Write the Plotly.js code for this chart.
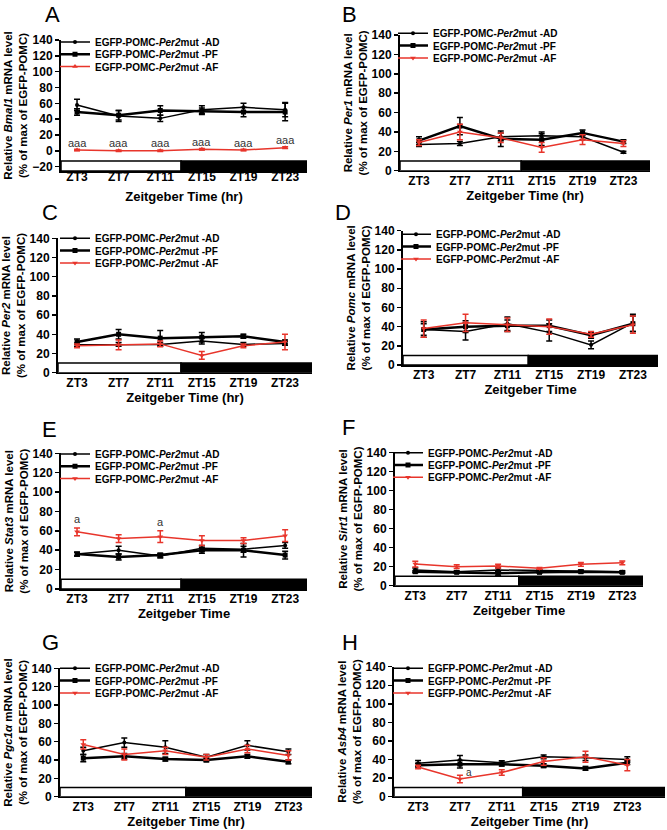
<!DOCTYPE html>
<html>
<head>
<meta charset="utf-8">
<script src="https://cdn.plot.ly/plotly-3.0.1.min.js"></script>
<style>
html,body{margin:0;padding:0;background:#ffffff;}
#chart{width:667px;height:830px;}
</style>
</head>
<body>
<div id="chart"></div>
<script>
// ---------- data ----------
const ztHours = [3, 7, 11, 15, 19, 23];
const ztLabels = ['ZT3', 'ZT7', 'ZT11', 'ZT15', 'ZT19', 'ZT23'];
const groupNames = [
  'EGFP-POMC-<i>Per2</i>mut -AD',
  'EGFP-POMC-<i>Per2</i>mut -PF',
  'EGFP-POMC-<i>Per2</i>mut -AF'
];
const panelLetters = ['A', 'B', 'C', 'D', 'E', 'F', 'G', 'H'];
const geneNames = ['Bmal1', 'Per1', 'Per2', 'Pomc', 'Stat3', 'Sirt1', 'Pgc1\u03b1', 'Asb4'];
const xTitles = ['Zeitgeber Time (hr)', 'Zeitgeber Time (hr)', 'Zeitgeber Time (hr)', 'Zeitgeber Time',
                 'Zeitgeber Time', 'Zeitgeber Time', 'Zeitgeber Time (hr)', 'Zeitgeber Time (hr)'];
const lightDarkBoundary = 13;

// A  Bmal1
const bmal1AD = [58, 44, 41, 52, 55, 52];
const bmal1ADerr = [7, 7, 4, 5, 5, 9];
const bmal1PF = [49, 45, 51, 50, 49, 49];
const bmal1PFerr = [4, 6, 6, 4, 6, 11];
const bmal1AF = [1, 0, 0, 2, 1, 4];
const bmal1AFerr = [1, 1, 1, 1, 1, 1];
const bmal1Sig = ['aaa', 'aaa', 'aaa', 'aaa', 'aaa', 'aaa'];
// B  Per1
const per1AD = [27, 28, 35, 36, 35, 19];
const per1ADerr = [2, 2, 4, 4, 3, 1];
const per1PF = [31, 46, 33, 32, 39, 30];
const per1PFerr = [4, 9, 8, 6, 3, 2];
const per1AF = [29, 40, 34, 24, 32, 28];
const per1AFerr = [3, 8, 5, 5, 5, 3];
// C  Per2
const per2AD = [29, 29.5, 29.5, 33, 29.5, 30.5];
const per2ADerr = [2, 2, 2, 3, 2, 2];
const per2PF = [32, 40, 36, 37, 38, 32];
const per2PFerr = [3, 5, 8, 5, 2, 2];
const per2AF = [28, 29, 30, 18, 28, 32];
const per2AFerr = [2, 5, 3, 4, 2, 8];
// D  Pomc
const pomcAD = [37, 35, 43, 34, 21, 44];
const pomcADerr = [8, 9, 7, 9, 4, 9];
const pomcPF = [37, 40, 41, 41, 31, 43];
const pomcPFerr = [6, 6, 6, 6, 3, 8];
const pomcAF = [38, 44, 42, 40, 32, 42];
const pomcAFerr = [9, 9, 7, 8, 3, 9];
// E  Stat3
const stat3AD = [36, 40, 34, 42, 41, 45];
const stat3ADerr = [2, 4, 2, 3, 3, 3];
const stat3PF = [36, 33, 35, 40, 40, 35];
const stat3PFerr = [2, 3, 2, 3, 7, 4];
const stat3AF = [59, 52, 54, 50, 50, 55];
const stat3AFerr = [4, 4, 6, 5, 3, 6];
const stat3Sig = ['a', '', 'a', '', '', ''];
// F  Sirt1
const sirt1AD = [16.5, 14.7, 16.5, 15.7, 15.4, 14.7];
const sirt1ADerr = [2, 1, 2, 1, 1, 1];
const sirt1PF = [14.7, 14, 13, 14, 14.7, 14];
const sirt1PFerr = [1, 1, 2, 1, 1, 1];
const sirt1AF = [22.7, 20, 20.6, 18.2, 22.4, 24];
const sirt1AFerr = [3, 2, 2, 1, 2, 2];
// G  Pgc1a
const pgc1aAD = [50, 59, 54, 43, 56, 49];
const pgc1aADerr = [4, 5, 7, 3, 5, 3];
const pgc1aPF = [42, 44, 41, 40, 44, 38];
const pgc1aPFerr = [4, 3, 2, 2, 2, 2];
const pgc1aAF = [57, 46, 50, 43, 52, 45];
const pgc1aAFerr = [5, 6, 4, 3, 4, 5];
// H  Asb4
const asb4AD = [36, 39.5, 36.6, 43, 42, 40];
const asb4ADerr = [3, 5, 2, 2, 3, 3];
const asb4PF = [34, 35, 35, 33.4, 30.5, 36.6];
const asb4PFerr = [2, 4, 2, 2, 2, 2];
const asb4AF = [32, 19, 26, 38, 43, 34];
const asb4AFerr = [2, 4, 3, 4, 6, 6];
const asb4Sig = ['', 'a', '', '', '', ''];

// ---------- assembly ----------
const panelSeries = [
  [bmal1AD, bmal1ADerr, bmal1PF, bmal1PFerr, bmal1AF, bmal1AFerr],
  [per1AD, per1ADerr, per1PF, per1PFerr, per1AF, per1AFerr],
  [per2AD, per2ADerr, per2PF, per2PFerr, per2AF, per2AFerr],
  [pomcAD, pomcADerr, pomcPF, pomcPFerr, pomcAF, pomcAFerr],
  [stat3AD, stat3ADerr, stat3PF, stat3PFerr, stat3AF, stat3AFerr],
  [sirt1AD, sirt1ADerr, sirt1PF, sirt1PFerr, sirt1AF, sirt1AFerr],
  [pgc1aAD, pgc1aADerr, pgc1aPF, pgc1aPFerr, pgc1aAF, pgc1aAFerr],
  [asb4AD, asb4ADerr, asb4PF, asb4PFerr, asb4AF, asb4AFerr]
];

// panel geometry in page pixels (styling only)
const W = 667, H = 830;
const geom = [
  {L: 61,  R: 307, top: 40,    bot: 171,   xr: [1.46, 25.1], yr: [-25.5, 140], bar: [-13, -25.5], lx: 95,  ly: 42,    px: 43,  py: 0,   tls: -6, xts: 9},
  {L: 400, R: 650, top: 35,    bot: 170.7, xr: [1.14, 25.6], yr: [0, 140],     bar: [0, 10],       lx: 433, ly: 33.3,  px: 340, py: 0,   tls: -2, xts: 4},
  {L: 58,  R: 312, top: 238.3, bot: 372.7, xr: [1.17, 25.6], yr: [0, 140],     bar: [0, 10],       lx: 95,  ly: 238.3, px: 40,  py: 198, tls: -2, xts: 3},
  {L: 403, R: 658, top: 230.7, bot: 365,   xr: [1.02, 25.4], yr: [0, 140],     bar: [0, 10],       lx: 436, ly: 234.3, px: 333, py: 198, tls: -2, xts: 4},
  {L: 61,  R: 307, top: 453.3, bot: 589,   xr: [1.46, 25.1], yr: [0, 140],     bar: [0, 10],       lx: 95,  ly: 454,   px: 40,  py: 415, tls: -2, xts: 3},
  {L: 395, R: 643, top: 452.3, bot: 585.7, xr: [1.04, 25.0], yr: [0, 140],     bar: [0, 10],       lx: 428, ly: 452.7, px: 340, py: 413, tls: -2, xts: 4},
  {L: 60,  R: 312, top: 668.3, bot: 796.7, xr: [0.73, 25.3], yr: [0, 140],     bar: [0, 10],       lx: 95,  ly: 668.3, px: 40,  py: 628, tls: -2, xts: 3},
  {L: 394, R: 665, top: 666.7, bot: 796.7, xr: [0.70, 26.6], yr: [0, 140],     bar: [0, 10],       lx: 428, ly: 668.3, px: 340, py: 628, tls: -2, xts: 3}
];
const legendRowGap = 12.3;

const FONT = 'Liberation Sans, Arial, Helvetica, sans-serif';
const RED = '#e8352b';
const styles = [
  {color: '#000000', width: 1.5, symbol: 'circle', size: 4},
  {color: '#000000', width: 2.5, symbol: 'square', size: 5},
  {color: RED, width: 1.5, symbol: 'triangle-down', size: 5}
];

const traces = [];
const layout = {
  width: W, height: H,
  margin: {l: 0, r: 0, t: 0, b: 0},
  paper_bgcolor: '#ffffff',
  plot_bgcolor: 'rgba(0,0,0,0)',
  font: {family: FONT, color: '#000000'},
  showlegend: true,
  shapes: [],
  annotations: []
};

panelSeries.forEach((s, p) => {
  const g = geom[p];
  const n = p + 1;
  const xa = 'x' + (n === 1 ? '' : n);
  const ya = 'y' + (n === 1 ? '' : n);
  const lg = 'legend' + (n === 1 ? '' : n);

  for (let k = 0; k < 3; k++) {
    const st = styles[k];
    const sym = (p === 0 && k === 2) ? 'triangle-up' : st.symbol;
    traces.push({
      type: 'scatter', mode: 'lines+markers',
      x: ztHours, y: s[2 * k],
      error_y: {type: 'data', array: s[2 * k + 1], visible: true, color: st.color, thickness: 1.5, width: 3},
      name: groupNames[k],
      xaxis: xa, yaxis: ya, legend: lg,
      line: {color: st.color, width: st.width},
      marker: {color: st.color, symbol: sym, size: st.size},
      cliponaxis: false
    });
  }

  layout['xaxis' + (n === 1 ? '' : n)] = {
    domain: [g.L / W, g.R / W],
    range: g.xr,
    anchor: ya,
    tickmode: 'array', tickvals: ztHours, ticktext: ztLabels,
    ticks: '', showgrid: false, zeroline: false,
    showline: true, linecolor: '#000000', linewidth: 1.5,
    ticklabelstandoff: g.tls,
    tickfont: {family: FONT, size: 12, weight: 'bold', color: '#000000'},
    title: {text: xTitles[p], font: {family: FONT, size: 13, weight: 'bold', color: '#000000'}, standoff: g.xts}
  };
  layout['yaxis' + (n === 1 ? '' : n)] = {
    domain: [1 - g.bot / H, 1 - g.top / H],
    range: g.yr,
    anchor: xa,
    tick0: 0, dtick: 20,
    ticks: 'outside', ticklen: 4, tickwidth: 1.5, tickcolor: '#000000',
    showgrid: false, zeroline: false,
    showline: true, linecolor: '#000000', linewidth: 2,
    tickfont: {family: FONT, size: 12, weight: 'bold', color: '#000000'},
    title: {
      text: 'Relative <i>' + geneNames[p] + '</i> mRNA level<br>(% of max of EGFP-POMC)',
      font: {family: FONT, size: 11.5, weight: 'bold', color: '#000000'},
      standoff: 2
    }
  };

  layout[lg] = {
    x: (g.lx - 40) / W, y: 1 - (g.ly - 14.5) / H,
    xanchor: 'left', yanchor: 'top',
    bgcolor: 'rgba(0,0,0,0)', borderwidth: 0,
    font: {family: FONT, size: 10, weight: 'bold', color: '#000000'},
    itemclick: false, itemdoubleclick: false
  };

  // light / dark bar
  layout.shapes.push({
    type: 'rect', xref: xa, yref: ya,
    x0: g.xr[0], x1: lightDarkBoundary, y0: g.bar[0], y1: g.bar[1],
    fillcolor: '#ffffff', line: {color: '#000000', width: 1.5}
  });
  layout.shapes.push({
    type: 'rect', xref: xa, yref: ya,
    x0: lightDarkBoundary, x1: g.xr[1], y0: g.bar[0], y1: g.bar[1],
    fillcolor: '#000000', line: {color: '#000000', width: 1.5}
  });

  // panel letter
  layout.annotations.push({
    xref: 'paper', yref: 'paper', x: g.px / W, y: 1 - g.py / H,
    xanchor: 'left', yanchor: 'top', showarrow: false,
    text: panelLetters[p], font: {family: FONT, size: 22, color: '#000000'}
  });
});

// significance marks
bmal1Sig.forEach((t, i) => {
  if (!t) return;
  layout.annotations.push({xref: 'x', yref: 'y', x: ztHours[i], y: bmal1AF[i] + 9.5,
    yanchor: 'middle', showarrow: false, text: t, font: {family: FONT, size: 11, color: '#333333'}});
});
stat3Sig.forEach((t, i) => {
  if (!t) return;
  layout.annotations.push({xref: 'x5', yref: 'y5', x: ztHours[i], y: stat3AF[i] + stat3AFerr[i] + 1,
    yanchor: 'bottom', showarrow: false, text: t, font: {family: FONT, size: 11, color: '#333333'}});
});
asb4Sig.forEach((t, i) => {
  if (!t) return;
  layout.annotations.push({xref: 'x8', yref: 'y8', x: ztHours[i], y: asb4AF[i] + 7.5, xshift: 9,
    yanchor: 'middle', showarrow: false, text: t, font: {family: FONT, size: 10, color: '#333333'}});
});

Plotly.newPlot('chart', traces, layout, {staticPlot: true, displayModeBar: false}).then(gd => {
  // tighten the legend rows to the compact spacing of the original figure
  const groups = new Map();
  gd.querySelectorAll('g.traces').forEach(item => {
    const parent = item.parentNode;
    if (!groups.has(parent)) groups.set(parent, []);
    groups.get(parent).push(item);
  });
  groups.forEach(items => {
    items.forEach((item, i) => {
      const m = /translate\(\s*([-\d.]+)[ ,]+([-\d.]+)\s*\)/.exec(item.getAttribute('transform') || '');
      if (!m) return;
      item.setAttribute('transform', 'translate(' + m[1] + ',' + (14.5 + i * legendRowGap) + ')');
    });
  });
});
</script>
</body>
</html>
